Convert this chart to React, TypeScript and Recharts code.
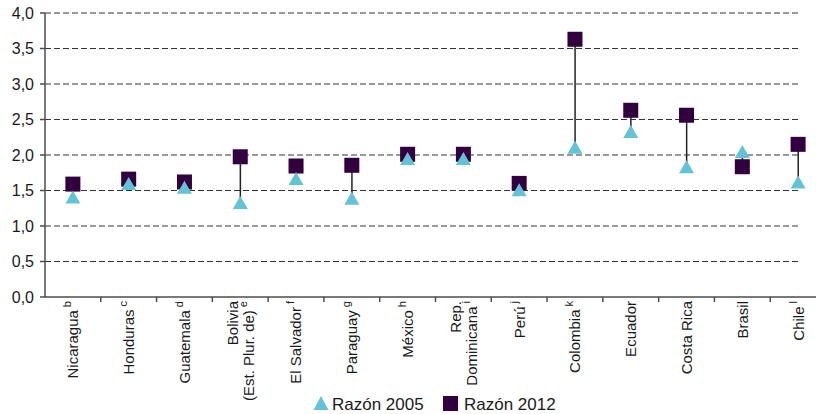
import React from 'react';
import { ComposedChart, Bar, Scatter, XAxis, YAxis, CartesianGrid, Legend } from 'recharts';

// valores
const countries: string[][] = [
    ['Nicaragua'], ['Honduras'], ['Guatemala'], ['Bolivia', '(Est. Plur. de)'], ['El Salvador'],
    ['Paraguay'], ['México'], ['Rep.', 'Dominicana'], ['Perú'], ['Colombia'],
    ['Ecuador'], ['Costa Rica'], ['Brasil'], ['Chile'],
];
const notes: string[] = ['b', 'c', 'd', 'e', 'f', 'g', 'h', 'i', 'j', 'k', '', '', '', 'l'];
const razon2005: number[] = [1.41, 1.6, 1.545, 1.33, 1.67, 1.39, 1.95, 1.95, 1.51, 2.11, 2.33, 1.835, 2.05, 1.62];
const razon2012: number[] = [1.59, 1.66, 1.62, 1.975, 1.845, 1.855, 2.01, 2.01, 1.6, 3.63, 2.63, 2.56, 1.835, 2.15];
const yTicks: number[] = [0, 0.5, 1, 1.5, 2, 2.5, 3, 3.5, 4];

const FONT = '"Liberation Sans", Arial, sans-serif';
const TRI = '#62c3d6';
const SQ = '#32003f';
const AXIS = '#4d4d4d';

const CHART_W = 830;
const PLOT_LEFT = 45;
const PLOT_RIGHT = 826;
const BAND = (PLOT_RIGHT - PLOT_LEFT) / countries.length;

const data = countries.map((lines, i) => ({
    name: lines.join(' '),
    lines,
    note: notes[i],
    r2005: razon2005[i],
    r2012: razon2012[i],
    range: [Math.min(razon2005[i], razon2012[i]), Math.max(razon2005[i], razon2012[i])],
}));

const CountryTick = (props: any) => {
    const { x, y, index } = props;
    const d = data[index];
    if (!d) return null;
    const n = d.lines.length;
    return (
        <g>
            <line x1={x + BAND / 2} x2={x + BAND / 2} y1={y} y2={y + 5} stroke={AXIS} strokeWidth={1.5} />
            <g transform={`translate(${x},${y + 4}) rotate(-90)`}>
                {d.lines.map((line: string, li: number) => {
                    const off = (li - (n - 1) / 2) * 16 + 5.4;
                    const last = li === n - 1;
                    return (
                        <text key={li} x={0} y={off} textAnchor="end" fontSize={15} fontFamily={FONT} fill="#1a1a1a">
                            {line}
                            {last && d.note ? <tspan dx={3} dy={-7} fontSize={11}>{d.note}</tspan> : null}
                        </text>
                    );
                })}
            </g>
        </g>
    );
};

const Square = (props: any) => {
    const { cx, cy } = props;
    return <rect x={cx - 7.5} y={cy - 7.5} width={15} height={15} fill={SQ} />;
};

const Triangle = (props: any) => {
    const { cx, cy } = props;
    return <polygon points={`${cx},${cy - 6.5} ${cx - 7.5},${cy + 6.5} ${cx + 7.5},${cy + 6.5}`} fill={TRI} />;
};

const Connector = (props: any) => {
    const { x, y, width, height } = props;
    const cx = x + width / 2;
    const top = Math.min(y, y + height);
    const bottom = Math.max(y, y + height);
    return <line x1={cx} x2={cx} y1={top} y2={bottom} stroke="#222" strokeWidth={1.5} />;
};

const GridLine = (props: any) => {
    const { x1, y1, y2, key } = props;
    return <line key={key} x1={x1} x2={801} y1={y1} y2={y2} stroke="#333" strokeDasharray="6 3" strokeWidth={1} />;
};

const LegendBox = () => (
    <div style={{ position: 'relative', height: 27, width: CHART_W, fontFamily: FONT, fontSize: 17, color: '#1a1a1a' }}>
        <svg width={16} height={14} style={{ position: 'absolute', left: 313, top: 9 }}>
            <polygon points="8,0 0.5,14 15.5,14" fill={TRI} />
        </svg>
        <span style={{ position: 'absolute', left: 332, top: 9, lineHeight: '17px', whiteSpace: 'nowrap' }}>Razón 2005</span>
        <svg width={15} height={15} style={{ position: 'absolute', left: 443, top: 9 }}>
            <rect x={0} y={0} width={15} height={15} fill={SQ} />
        </svg>
        <span style={{ position: 'absolute', left: 464, top: 9, lineHeight: '17px', whiteSpace: 'nowrap' }}>Razón 2012</span>
    </div>
);

const App: React.FC = () => {
    return (
        <div style={{ position: 'fixed', left: 0, top: 0, width: 816, height: 414, overflow: 'hidden', background: '#fff' }}>
            <ComposedChart width={CHART_W} height={414} data={data} margin={{ top: 13, right: CHART_W - PLOT_RIGHT, bottom: 0, left: 0 }}>
                <CartesianGrid vertical={false} horizontal={GridLine} horizontalValues={[0.5, 1, 1.5, 2, 2.5, 3, 3.5, 4]} />
                <XAxis
                    dataKey="name"
                    type="category"
                    interval={0}
                    height={90}
                    tick={<CountryTick />}
                    tickLine={false}
                    tickSize={0}
                    tickMargin={0}
                    axisLine={{ stroke: AXIS, strokeWidth: 1.5 }}
                />
                <YAxis
                    type="number"
                    domain={[0, 4]}
                    ticks={yTicks}
                    width={PLOT_LEFT}
                    tickFormatter={(v: number) => v.toFixed(1).replace('.', ',')}
                    tick={{ fontSize: 16, fontFamily: FONT, fill: '#1a1a1a' }}
                    tickSize={5}
                    tickMargin={6}
                    tickLine={{ stroke: AXIS, strokeWidth: 1.5 }}
                    axisLine={{ stroke: AXIS, strokeWidth: 1.5 }}
                />
                <Legend verticalAlign="bottom" height={27} wrapperStyle={{ left: 0, bottom: 0, width: CHART_W }} content={<LegendBox />} />
                <Bar dataKey="range" barSize={2} shape={<Connector />} isAnimationActive={false} legendType="none" />
                <Scatter dataKey="r2012" shape={<Square />} isAnimationActive={false} />
                <Scatter dataKey="r2005" shape={<Triangle />} isAnimationActive={false} />
            </ComposedChart>
        </div>
    );
};

export default App;
